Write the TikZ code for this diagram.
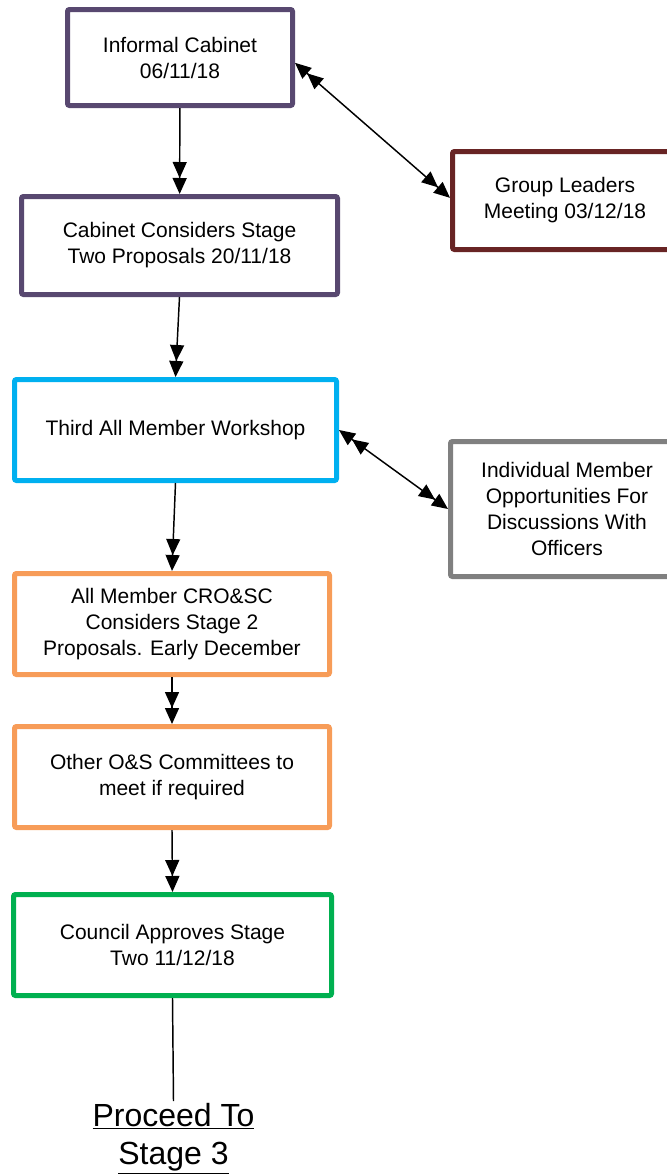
\documentclass[tikz,border=0pt]{standalone}
\usepackage{fontspec}
\setmainfont{Liberation Sans}
\usetikzlibrary{arrows.meta}

\definecolor{cabpurple}{RGB}{88,72,112}
\definecolor{leadred}{RGB}{104,36,36}
\definecolor{workcyan}{RGB}{0,176,240}
\definecolor{offgray}{RGB}{128,128,128}
\definecolor{osorange}{RGB}{247,156,88}
\definecolor{counciltgreen}{RGB}{0,176,80}

\tikzset{
  box/.style={draw, line width=3.75pt, rounded corners=1.5pt, fill=white, align=center,
    font=\fontsize{15.75}{19.5}\selectfont},
  dtip/.style={-{Triangle[length=12pt,width=10.5pt,sep=0pt]Triangle[length=12pt,width=10.5pt]}},
  dtips/.style={{Triangle[length=12pt,width=10.5pt,sep=0pt]Triangle[length=12pt,width=10.5pt]}-{Triangle[length=12pt,width=10.5pt,sep=0pt]Triangle[length=12pt,width=10.5pt]}},
  conn/.style={line width=1.1pt, black}
}

\begin{document}
\begin{tikzpicture}[x=0.75pt,y=-0.75pt]
			%%%%% FRAME %%%%%
			\useasboundingbox (0,0) rectangle (667,1175);
			\clip (0,0) rectangle (667,1175);
			
			%%%%% BOXES %%%%%
			\node[box, draw=cabpurple, minimum width=168.75pt, minimum height=72pt] (infcab) at (180,57.5) {Informal Cabinet\\06/11/18};
			\node[box, draw=cabpurple, minimum width=237pt, minimum height=73.5pt] (cabcons) at (179.5,245.5) {Cabinet Considers Stage\\Two Proposals 20/11/18};
			\node[box, draw=leadred, minimum width=168.75pt, minimum height=73.5pt] (leaders) at (565,200.5) {Group Leaders\\Meeting 03/12/18};
			\node[box, draw=workcyan, minimum width=241.5pt, minimum height=75.75pt] (workshop) at (175.5,430) {Third All Member Workshop};
			\node[box, draw=offgray, minimum width=174.75pt, minimum height=101.25pt] (indiv) at (567,509) {Individual Member\\Opportunities For\\Discussions With\\Officers};
			\node[box, draw=osorange, minimum width=236.25pt, minimum height=75.75pt] (crosc) at (172,624) {All Member CRO\&SC\\Considers Stage 2\\Proposals. Early December};
			\node[box, draw=osorange, minimum width=236.25pt, minimum height=75.75pt] (othos) at (172,777) {Other O\&S Committees to\\meet if required};
			\node[box, draw=counciltgreen, minimum width=238.5pt, minimum height=75.75pt] (council) at (172.5,945) {Council Approves Stage\\Two 11/12/18};
			
			\node[anchor=north, inner sep=1.5pt, align=center, font=\fontsize{24}{28.5}\selectfont] (proceed) at (173.5,1101) {\underline{Proceed To}\\\underline{Stage 3}};
			
			%%%%% CONNECTORS %%%%%
			\draw[conn, dtip] (infcab) -- (cabcons);
			\draw[conn, dtip] (cabcons.south) -- (workshop.north);
			\draw[conn, dtip] (workshop.south) -- (crosc.north);
			\draw[conn, dtip] (crosc) -- (othos);
			\draw[conn, dtip] (othos.south) -- (council.north);
			\draw[conn] (council.south) -- (proceed.north);
			
			\draw[conn, dtips] ([yshift=-4pt]infcab.east) -- ([yshift=2pt]leaders.west);
			\draw[conn, dtips] (workshop.east) -- (indiv.west);
\end{tikzpicture}
\end{document}
